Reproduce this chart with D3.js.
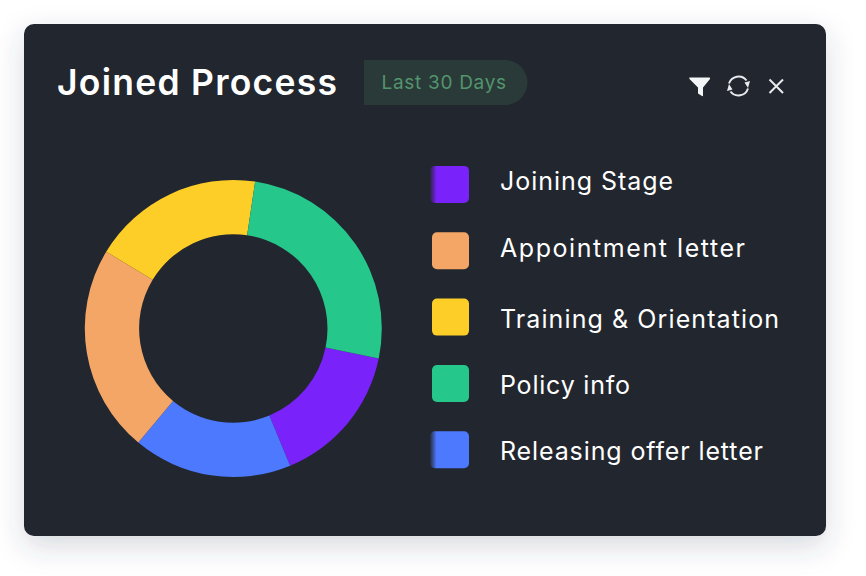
<!DOCTYPE html>
<html>
<head>
<meta charset="utf-8">
<script src="https://d3js.org/d3.v7.min.js"></script>
<style>
  html, body { margin: 0; padding: 0; background: #fff; }
  svg { display: block; }
  text { font-family: "Inter", "Open Sans", sans-serif; }
</style>
</head>
<body>
<svg id="chart" width="866" height="576"></svg>
<script>
const categories = ["Joining Stage", "Appointment letter", "Training & Orientation", "Policy info", "Releasing offer letter"];
const values = [15.5, 22.6, 18.7, 25.9, 17.3];
const colors = ["#7a22fa", "#f4a666", "#fdcd28", "#25c78b", "#4d79ff"];
// order of the slices going clockwise round the ring
const ringOrder = ["Joining Stage", "Releasing offer letter", "Appointment letter", "Training & Orientation", "Policy info"];
const titleText = "Joined Process";
const badgeText = "Last 30 Days";

const svg = d3.select("svg#chart");
const defs = svg.append("defs");

const shadow = defs.append("filter").attr("id", "cardShadow")
    .attr("x", "-10%").attr("y", "-10%").attr("width", "120%").attr("height", "125%");
shadow.append("feDropShadow").attr("dx", 0).attr("dy", 10).attr("stdDeviation", 14)
    .attr("flood-color", "#3a4560").attr("flood-opacity", 0.2);

// purple and blue swatches fade out on the left edge
["Joining Stage", "Releasing offer letter"].forEach(function(name) {
    const i = categories.indexOf(name);
    const grad = defs.append("linearGradient").attr("id", "fade" + i);
    grad.append("stop").attr("offset", "0%").attr("stop-color", colors[i]).attr("stop-opacity", 0.08);
    grad.append("stop").attr("offset", "17%").attr("stop-color", colors[i]);
});

// card
svg.append("rect").attr("x", 24).attr("y", 24).attr("width", 802).attr("height", 512)
    .attr("rx", 10).attr("fill", "#21252e").attr("filter", "url(#cardShadow)");

// header
svg.append("text").attr("x", 57).attr("y", 94.5)
    .attr("font-size", 35.5).attr("font-weight", 600)
    .attr("textLength", 280).attr("lengthAdjust", "spacing")
    .attr("fill", "#fff").text(titleText);

svg.append("path")
    .attr("d", "M364 60H505a22.5 22.5 0 0 1 0 45H364Z")
    .attr("fill", "#293a38");
svg.append("text").attr("x", 381.5).attr("y", 89)
    .attr("font-size", 19).attr("letter-spacing", 0.7)
    .attr("fill", "#54946d").text(badgeText);

// header icons
const icons = svg.append("g");
icons.append("path").attr("d", "M689.5 77.5H709.5Q710.5 78 710 79L703 87.5V95.5Q703 96.5 702 96L698 93.5V87.5L689.5 79Q689 78 689.5 77.5Z").attr("fill", "#f4f5f7");
const refresh = icons.append("g").attr("transform", "translate(738.5,86)")
    .attr("fill", "none").attr("stroke", "#e8eaee").attr("stroke-width", 2);
refresh.append("path").attr("d", "M-9.5 -2.5A10 10 0 0 1 8 -5.5");
refresh.append("path").attr("d", "M9.5 2.5A10 10 0 0 1 -8 5.5");
refresh.append("path").attr("d", "M11.5 -5L6 -3.5L9.5 2Z").attr("fill", "#e8eaee").attr("stroke", "none");
refresh.append("path").attr("d", "M-11.5 5L-6 3.5L-9.5 -2Z").attr("fill", "#e8eaee").attr("stroke", "none");
icons.append("path").attr("d", "M769.5 79.5L783 93M783 79.5L769.5 93")
    .attr("stroke", "#e8eaee").attr("stroke-width", 2).attr("fill", "none");

// donut
const color = d3.scaleOrdinal().domain(categories).range(colors);
const valueOf = new Map(categories.map((c, i) => [c, values[i]]));
const pie = d3.pie().sort(null).value(d => valueOf.get(d))
    .startAngle(101.7 * Math.PI / 180)
    .endAngle((101.7 + 360) * Math.PI / 180);
const arc = d3.arc().innerRadius(94.2).outerRadius(148.5);

svg.append("g").attr("transform", "translate(233.3,328.5)")
    .selectAll("path").data(pie(ringOrder)).join("path")
    .attr("d", arc)
    .attr("fill", d => color(d.data));

// legend
const legendY = d3.scalePoint().domain(categories).range([184.4, 449.8]);
const labelWidth = d3.scaleOrdinal().domain(categories).range([173, 245, 279, 130, 263]);
const legend = svg.append("g").selectAll("g").data(categories).join("g")
    .attr("transform", d => "translate(0," + legendY(d) + ")");
legend.append("rect")
    .attr("x", (d, i) => (i === 0 || i === 4) ? 430 : 432)
    .attr("y", -18.5)
    .attr("width", (d, i) => (i === 0 || i === 4) ? 39 : 37)
    .attr("height", 37).attr("rx", 5)
    .attr("fill", (d, i) => (i === 0 || i === 4) ? "url(#fade" + i + ")" : colors[i]);
// the lower three labels sit a little under their swatch centre
legend.append("text").attr("x", 500).attr("y", (d, i) => i < 2 ? 6 : 10.4)
    .attr("font-size", 25)
    .attr("textLength", d => labelWidth(d)).attr("lengthAdjust", "spacing")
    .attr("fill", "#fff").text(d => d);
</script>
</body>
</html>
